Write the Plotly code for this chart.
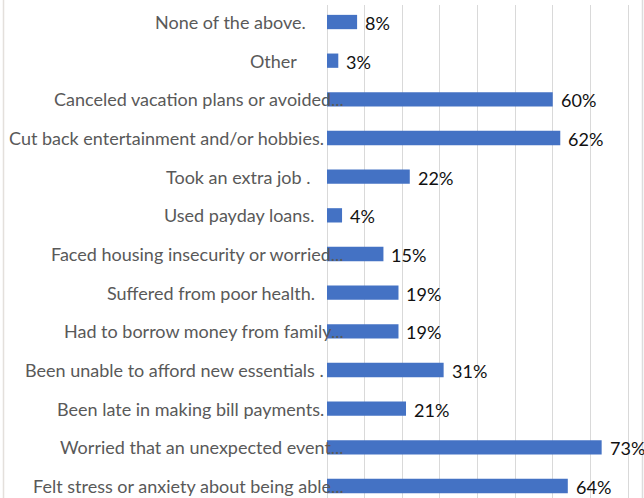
import plotly.graph_objects as go

# Survey responses, listed top to bottom as they appear in the chart
categories = [
    "None of the above.    ",
    "Other      ",
    "Canceled vacation plans or avoided...",
    "Cut back entertainment and/or hobbies.",
    "Took an extra job .   ",
    "Used payday loans.  ",
    "Faced housing insecurity or worried...",
    "Suffered from poor health.  ",
    "Had to borrow money from family...",
    "Been unable to afford new essentials .",
    "Been late in making bill payments.",
    "Worried that an unexpected event...",
    "Felt stress or anxiety about being able...",
]
percent = [8, 3, 60, 62, 22, 4, 15, 19, 19, 31, 21, 73, 64]
x_ticks = [0, 10, 20, 30, 40, 50, 60, 70, 80]

# plot bottom-up so the first response sits at the top
cats = categories[::-1]
vals = percent[::-1]
idx = list(range(len(cats)))

W, H = 644, 498
LABEL_FONT = "Lato"
BAR_COLOR = "#4472C4"
GRID = "#D9D9D9"
ELLIPSIS_OVERHANG = 19  # truncated labels spill their "..." over the bar

fig = go.Figure()
fig.add_trace(go.Bar(
    x=vals,
    y=idx,
    orientation="h",
    width=0.37,
    marker=dict(color=BAR_COLOR, line=dict(width=0)),
    hoverinfo="skip",
))

annotations = []
for i, (name, v) in enumerate(zip(cats, vals)):
    shown = name.rstrip()
    trail = len(name) - len(shown)
    overhang = ELLIPSIS_OVERHANG if shown.endswith("...") else -1
    annotations.append(dict(
        x=0, y=i, xref="x", yref="y",
        text=shown + "\u00a0" * trail,
        xanchor="right", yanchor="middle", xshift=overhang, yshift=0,
        showarrow=False,
        font=dict(family=LABEL_FONT, size=18, color="#595959"),
    ))
    annotations.append(dict(
        x=v, y=i, xref="x", yref="y",
        text=f"{v}%",
        xanchor="left", yanchor="middle", xshift=6, yshift=-1,
        showarrow=False,
        font=dict(family=LABEL_FONT, size=18, color="#111111"),
    ))

# outer chart border
shapes = [
    dict(type="line", xref="paper", yref="paper", x0=3.5 / W, x1=3.5 / W,
         y0=-0.1, y1=1.1, line=dict(color="#E4E0DC", width=1.5)),
    dict(type="line", xref="paper", yref="paper", x0=642.5 / W, x1=642.5 / W,
         y0=-0.1, y1=1.1, line=dict(color="#DCDCDC", width=1.5)),
]

px_per_unit = 301 / 80
x_max = (W - 327) / px_per_unit

fig.update_layout(
    width=W, height=H,
    margin=dict(l=0, r=0, t=0, b=0),
    paper_bgcolor="white", plot_bgcolor="white",
    showlegend=False,
    bargap=0.6,
    annotations=annotations,
    shapes=shapes,
    xaxis=dict(
        domain=[327 / W, 1], range=[0, x_max],
        tickvals=x_ticks, showticklabels=False,
        showgrid=True, gridcolor=GRID, gridwidth=1,
        zeroline=True, zerolinecolor=GRID, zerolinewidth=1,
        showline=False, ticks="",
    ),
    yaxis=dict(
        domain=[0, (H - 5) / H], range=[-0.31, 12.44],
        showticklabels=False, showgrid=False, zeroline=False,
        showline=False, ticks="",
    ),
)

fig.write_html("out.html")
